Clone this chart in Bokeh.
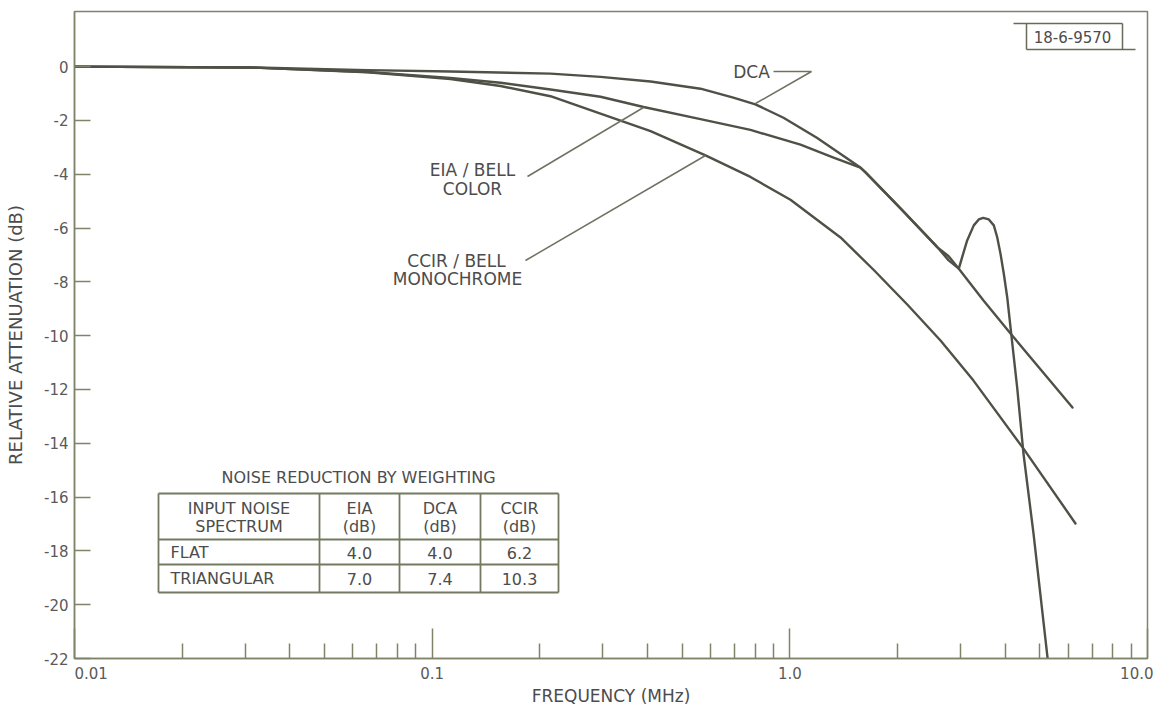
import numpy as np
from bokeh.plotting import figure
from bokeh.models import FixedTicker, Range1d
from bokeh.core.properties import value
from bokeh.embed import file_html
from bokeh.resources import INLINE

# ---------------- data (frequency in MHz, relative attenuation in dB) ----------------
dca_freq = [0.01, 0.031, 0.066, 0.1125, 0.2142, 0.2955, 0.408, 0.5626, 0.695, 0.801,
            0.96, 1.19, 1.575, 1.628, 2.039, 2.588, 2.78, 2.968, 3.033, 3.132, 3.268,
            3.375, 3.472, 3.600, 3.718, 3.800, 3.882, 3.965, 4.053, 4.140, 4.323,
            4.50, 4.80, 5.25, 5.30]
dca_db = [0.0, -0.03, -0.13, -0.18, -0.26, -0.38, -0.55, -0.82, -1.15, -1.40,
          -1.90, -2.64, -3.75, -3.93, -5.27, -6.72, -7.05, -7.51, -7.08, -6.46, -5.90,
          -5.68, -5.62, -5.68, -5.90, -6.34, -6.96, -7.70, -8.57, -9.69, -11.95,
          -14.38, -17.35, -21.93, -22.4]

eia_freq = [0.01, 0.031, 0.066, 0.1125, 0.1553, 0.2142, 0.2955, 0.390, 0.5626, 0.776,
            1.071, 1.325, 1.575, 1.628, 2.039, 2.588, 2.78, 2.968, 3.479, 4.140, 6.17]
eia_db = [0.0, -0.03, -0.20, -0.42, -0.60, -0.85, -1.12, -1.50, -1.95, -2.35,
          -2.90, -3.38, -3.75, -3.93, -5.27, -6.72, -7.20, -7.51, -8.69, -9.92, -12.67]

ccir_freq = [0.01, 0.031, 0.066, 0.1125, 0.1553, 0.2142, 0.2955, 0.408, 0.581, 0.776,
             1.004, 1.386, 1.714, 2.133, 2.638, 3.262, 4.50, 6.29]
ccir_db = [0.0, -0.03, -0.21, -0.46, -0.72, -1.10, -1.75, -2.40, -3.30, -4.10,
           -4.95, -6.35, -7.55, -8.85, -10.18, -11.67, -14.20, -16.98]

x_ticks = [0.01, 0.1, 1.0, 10.0]
x_tick_labels = ["0.01", "0.1", "1.0", "10.0"]
x_minor_ticks = [k * d for d in (0.01, 0.1, 1.0) for k in range(2, 10)]
y_ticks = list(range(0, -23, -2))

table_title = "NOISE REDUCTION BY WEIGHTING"
table_head_1 = ["INPUT NOISE", "EIA", "DCA", "CCIR"]
table_head_2 = ["SPECTRUM", "(dB)", "(dB)", "(dB)"]
table_rows = ["FLAT", "TRIANGULAR"]
eia_reduction = [4.0, 7.0]
dca_reduction = [4.0, 7.4]
ccir_reduction = [6.2, 10.3]

# ---------------- layout helpers (reference pixel -> data) ----------------
X0, X1 = 0.01, 10.0
Y0, Y1 = -22.0, 2.05
FL, FT, FR, FB = 74, 11, 1147, 658


def fx(px):
    return 10 ** (np.log10(X0) + (px - FL) / (FR - FL) * (np.log10(X1) - np.log10(X0)))


def fy(py):
    return Y1 - (py - FT) / (FB - FT) * (Y1 - Y0)


FONT = "DejaVu Sans"
TXT = "#4c4c4c"
TICKTXT = "#5a5a5a"
CURVE = "#4e5146"
FRAME = "#7f8468"
LEAD = "#6f7262"

p = figure(x_axis_type="log", x_range=Range1d(X0, X1), y_range=Range1d(Y0, Y1),
           frame_width=FR - FL, frame_height=FB - FT,
           min_border_left=FL, min_border_top=FT, min_border_right=6,
           min_border_bottom=53,
           output_backend="svg", toolbar_location=None)
p.grid.visible = False
p.background_fill_color = "white"
p.border_fill_color = "white"
p.outline_line_color = FRAME
p.outline_line_width = 1.5

# x axis: first label starts at its tick (as in the original); the last one is kept
# inside the canvas by Bokeh, so it ends at the frame edge
NB = "\u00a0" * 7
x_overrides = {}
for i, (t, lab) in enumerate(zip(x_ticks, x_tick_labels)):
    x_overrides[t] = (NB + lab) if i == 0 else lab

xa = p.xaxis[0]
xa.ticker = FixedTicker(ticks=x_ticks, minor_ticks=x_minor_ticks)
xa.major_label_overrides = x_overrides
xa.major_tick_in = 30
xa.major_tick_out = 0
xa.minor_tick_in = 15
xa.minor_tick_out = 0
xa.major_tick_line_color = FRAME
xa.minor_tick_line_color = FRAME
xa.major_tick_line_width = 1.5
xa.minor_tick_line_width = 1.5
xa.axis_line_color = FRAME
xa.axis_line_width = 1.5
xa.major_label_text_font = FONT
xa.major_label_text_color = TICKTXT
xa.major_label_text_font_size = "15px"
xa.major_label_standoff = 6
xa.axis_label = "FREQUENCY (MHz)"
xa.axis_label_text_font = FONT
xa.axis_label_text_font_style = "normal"
xa.axis_label_text_font_size = "17px"
xa.axis_label_text_color = TXT
xa.axis_label_standoff = 0

# y axis
ya = p.yaxis[0]
ya.ticker = FixedTicker(ticks=y_ticks, minor_ticks=[])
ya.major_label_overrides = {t: str(t) for t in y_ticks}
ya.major_tick_in = 16
ya.major_tick_out = 0
ya.minor_tick_in = 0
ya.minor_tick_out = 0
ya.major_tick_line_color = FRAME
ya.major_tick_line_width = 1.5
ya.axis_line_color = FRAME
ya.axis_line_width = 1.5
ya.major_label_text_font = FONT
ya.major_label_text_font_size = "15px"
ya.major_label_text_color = TICKTXT
ya.major_label_standoff = 6
ya.axis_label = "RELATIVE ATTENUATION (dB)"
ya.axis_label_text_font = FONT
ya.axis_label_text_font_style = "normal"
ya.axis_label_text_font_size = "18px"
ya.axis_label_text_color = TXT
ya.axis_label_standoff = 15

# curves
for fr, db in ((ccir_freq, ccir_db), (eia_freq, eia_db), (dca_freq, dca_db)):
    p.line(fr, db, line_color=CURVE, line_width=2.4, line_join="round", line_cap="round")

# leader lines
p.line([fx(773), fx(811), fx(755)], [fy(71), fy(71), fy(103)], line_color=LEAD, line_width=1.5)
p.line([fx(527), fx(643)], [fy(176), fy(107)], line_color=LEAD, line_width=1.5)
p.line([fx(525), fx(705)], [fy(260), fy(155)], line_color=LEAD, line_width=1.5)


def txt(px, py, s, align="center", size="17px", color=TXT):
    p.text(x=[fx(px)], y=[fy(py)], text=[s], text_align=align, text_baseline="middle",
           text_font=value(FONT), text_font_size=value(size), text_color=color)


txt(751, 71, "DCA")
txt(472, 169, "EIA / BELL")
txt(472, 188, "COLOR")
txt(456, 260, "CCIR / BELL")
txt(457, 278, "MONOCHROME")

# stamp box top-right
p.segment(x0=[fx(1013), fx(1026), fx(1122), fx(1026)],
          y0=[fy(23), fy(23), fy(23), fy(49)],
          x1=[fx(1122), fx(1026), fx(1122), fx(1135)],
          y1=[fy(23), fy(49), fy(49), fy(49)],
          line_color="#6a6a5a", line_width=1.5)
txt(1072, 36, "18-6-9570", size="15px")

# table
TBL = "#737a60"
h_py = [493, 539, 564, 592]
v_px = [158, 319, 399, 480, 558]
p.segment(x0=[fx(v_px[0])] * len(h_py), y0=[fy(v) for v in h_py],
          x1=[fx(v_px[-1])] * len(h_py), y1=[fy(v) for v in h_py],
          line_color=TBL, line_width=1.8)
p.segment(x0=[fx(v) for v in v_px], y0=[fy(h_py[0])] * len(v_px),
          x1=[fx(v) for v in v_px], y1=[fy(h_py[-1])] * len(v_px),
          line_color=TBL, line_width=1.8)

txt(358, 477, table_title, size="16px")
col_c = [(v_px[i] + v_px[i + 1]) / 2 for i in range(4)]
for c, a, b in zip(col_c, table_head_1, table_head_2):
    txt(c, 508, a, size="16px")
    txt(c, 526, b, size="16px")
row_y = [552, 578]
for ry, name, e, d, c in zip(row_y, table_rows, eia_reduction, dca_reduction, ccir_reduction):
    txt(170, ry, name, align="left", size="16px")
    txt(col_c[1], ry, f"{e:.1f}", size="16px")
    txt(col_c[2], ry, f"{d:.1f}", size="16px")
    txt(col_c[3], ry, f"{c:.1f}", size="16px")

open("out.html", "w").write(file_html(p, INLINE))
